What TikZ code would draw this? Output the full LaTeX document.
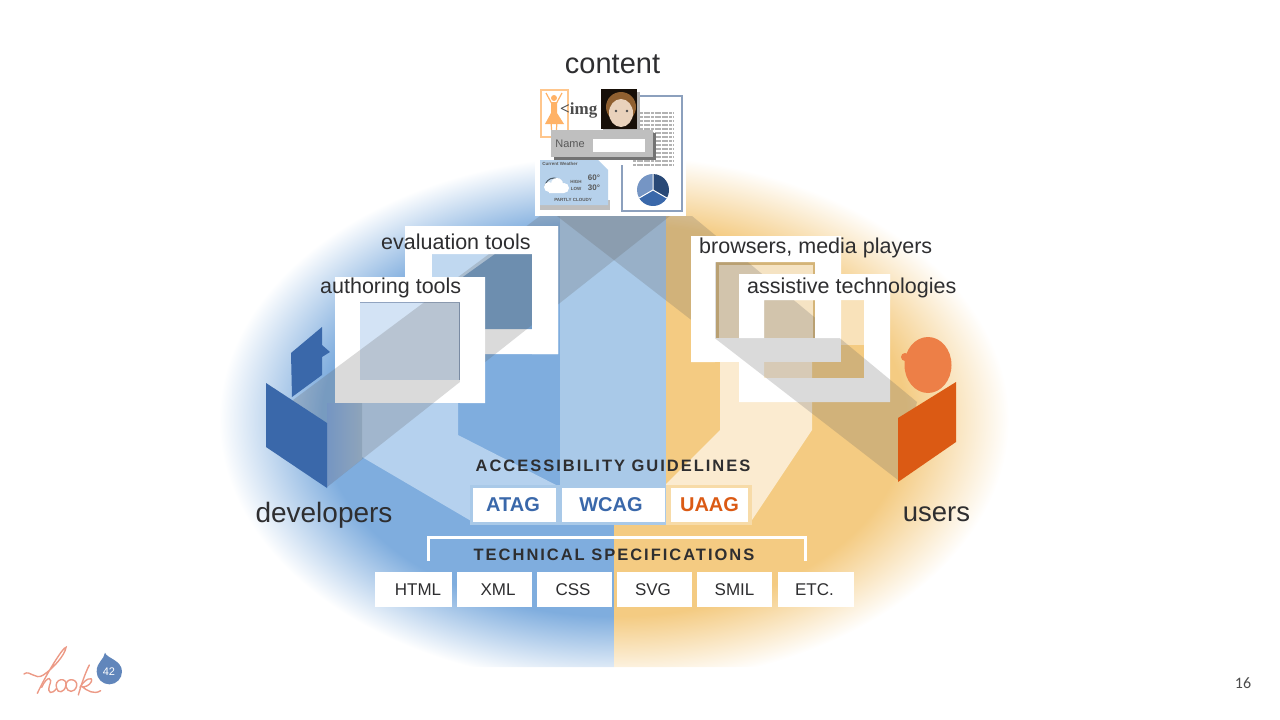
\documentclass[tikz,border=0pt]{standalone}
\usepackage{fontspec}
\setmainfont{Liberation Sans}
\newfontfamily\imgfont{Liberation Serif}
\newfontfamily\slidefont{Carlito}
\newfontfamily\trackfont[LetterSpace=12]{Liberation Sans}
\definecolor{devblue}{HTML}{3A68AA}
\definecolor{glowblue}{HTML}{7FADDE}
\definecolor{bandblue}{HTML}{A9C9E8}
\definecolor{paleblue}{HTML}{B5D1EE}
\definecolor{gloworange}{HTML}{F4CB82}
\definecolor{paleorange}{HTML}{FBEBD0}
\definecolor{useorange}{HTML}{DB5A14}
\definecolor{headorange}{HTML}{ED7F47}
\definecolor{beamgray}{HTML}{606060}
\definecolor{tan}{HTML}{D4B478}
\definecolor{inkdark}{HTML}{2E2E30}
\definecolor{signcolor}{HTML}{EC9A86}
\pgfdeclareradialshading{blueglow}{\pgfpoint{0bp}{0bp}}{color(0bp)=(glowblue); color(18.5bp)=(glowblue); color(25bp)=(white); color(50bp)=(white)}
\pgfdeclareradialshading{orangeglow}{\pgfpoint{0bp}{0bp}}{color(0bp)=(gloworange); color(18.5bp)=(gloworange); color(25bp)=(white); color(50bp)=(white)}
\tikzset{
      beam/.style={fill=beamgray, fill opacity=0.23},
      frame/.style={fill=white, even odd rule},
      toolname/.style={anchor=west, inner sep=0pt, font=\fontsize{21.5}{21.5}\selectfont, text=inkdark},
      actor/.style={inner sep=0pt, font=\fontsize{28}{28}\selectfont, text=inkdark},
      heading/.style={inner sep=0pt, font=\trackfont\fontsize{16.5}{16.5}\selectfont\bfseries, text=inkdark},
      guide/.style={fill=white, inner sep=0pt, minimum height=34pt, font=\fontsize{20}{20}\selectfont\bfseries},
      spec/.style={fill=white, inner sep=0pt, minimum width=75pt, minimum height=35pt, font=\fontsize{17}{17}\selectfont, text=inkdark},
      tiny/.style={inner sep=0pt, font=\fontsize{4.5}{5}\selectfont\bfseries, text=black!65},
      signature/.style={draw=signcolor, line width=1.4pt, line cap=round},
}
\begin{document}
\begin{tikzpicture}[x=1pt,y=-1pt]
        \useasboundingbox (0,0) rectangle (1280,720);

        % Draw the glow
        \begin{scope}
            \clip (0,0) -- (666,0) -- (666,505) -- (614,505) -- (614,667) -- (0,667) -- cycle;
            \shade[shading=blueglow] (614,420) ellipse [x radius=395pt, y radius=265pt];
        \end{scope}
        \begin{scope}
            \clip (1280,0) -- (666,0) -- (666,505) -- (614,505) -- (614,667) -- (1280,667) -- cycle;
            \shade[shading=orangeglow] (614,420) ellipse [x radius=395pt, y radius=265pt];
        \end{scope}

        % Draw the pale shapes under the boxes
        \fill[bandblue] (560,205) -- (666,205) -- (666,490) -- (560,490) -- cycle;
        \fill[paleblue] (362,400) -- (458,400) -- (458,435) -- (560,487) -- (560,490) -- (478,525) -- (362,457) -- cycle;
        \fill[paleorange] (720,360) -- (812,360) -- (812,430) -- (752,520) -- (666,505) -- (666,484) -- (720,430) -- cycle;

        % Draw the tool boxes
        \fill[frame] (405,226) rectangle (558,354) (432,254) rectangle (532,329);
        \fill[paleblue!85!white] (432,254) rectangle (532,329);
        \fill[glowblue!90!black] (532,254) -- (532,329) -- (432,329) -- (432,299) -- (495,254) -- cycle;
        \fill[white] (335,277) rectangle (485,403);
        \fill[paleblue!60!white] (360,302) rectangle (460,380);
        \draw[black!20!devblue!60!white, line width=1.5pt] (360,302) -- (460,302) -- (460,380);

        \fill[white] (691,236) rectangle (841,362);
        \draw[tan, line width=3pt, fill=paleorange!85!tan] (717,338) -- (717,263) -- (814,263) -- (814,338);
        \fill[frame] (739,274) rectangle (890,402) (764,300) rectangle (864,378);
        \fill[gloworange!55!white] (841,300) rectangle (864,345);

        % Draw the beams
        \fill[beam] (540,216) -- (670,216) -- (327,487) -- (293,400) -- cycle;
        \fill[beam] (557,216) -- (692,216) -- (917,402) -- (898,480) -- cycle;
        \shade[left color=devblue!70!white, right color=black!25!paleblue!90!white, fill opacity=0.85] (327,403) -- (362,403) -- (362,459) -- (327,487) -- cycle;

        % Draw the strips of the boxes that stay white
        \fill[white] (405,226) rectangle (558,254) (532,254) rectangle (558,354);
        \fill[white] (335,277) rectangle (485,302) (460,302) rectangle (485,403);
        \fill[white] (691,236) rectangle (841,262) (691,262) rectangle (715,362) (815,262) rectangle (841,338);
        \fill[white] (739,274) rectangle (890,300) (739,300) rectangle (764,338);

        % Draw the developers and the users
        \fill[devblue] (266,383) -- (327,423) -- (327,488) -- (266,447) -- cycle;
        \fill[devblue] (322,327) -- (322,345) -- (330,352) -- (322,357) -- (322,375) -- (292,397) -- (291,353) -- cycle;
        \fill[headorange] (928,365) ellipse [x radius=23.5pt, y radius=28pt];
        \fill[headorange] (905,357) circle [radius=4pt];
        \fill[useorange] (956,382) -- (956,442) -- (898,482) -- (898,418) -- cycle;

        % Draw the content sheet
        \fill[white] (535,85) rectangle (686,216);
        \draw[black!20!devblue!55!white, line width=2pt] (622,165) -- (622,211) -- (682,211) -- (682,96) -- (636,96);
        \foreach \liney in {113,117,...,165}
            \draw[black!30, line width=2pt, dash pattern=on 3pt off 0.6pt] (633,\liney) -- (674,\liney);
        \draw[orange!45!white, line width=2pt] (541,90) rectangle (568,137);
        \fill[orange!60!white] (554,98) circle [radius=3pt];
        \fill[orange!60!white] (551,102) -- (557,102) -- (557,113) -- (564,124) -- (545,124) -- (551,113) -- cycle;
        \draw[orange!60!white, line width=1.2pt] (552,104) -- (546,93) (556,104) -- (562,93) (551,122) -- (552,135) (557,122) -- (556,135);
        \node[inner sep=0pt, anchor=west, text=black!70] (imgtag) at (560,110) {\imgfont\fontsize{17}{17}\selectfont\bfseries <img};
        \fill[black!30] (603,92) rectangle (640,132);
        \fill[black!88!brown] (601,89) rectangle (637,129);
        \fill[brown!75!black] (621,107) ellipse [x radius=15pt, y radius=15pt];
        \fill[brown!35!white] (621,113) ellipse [x radius=12pt, y radius=14pt];
        \fill[black!70] (616,111) circle [radius=1.3pt] (627,111) circle [radius=1.3pt];
        \fill[black!55] (554,133) rectangle (656,160);
        \fill[black!25] (551,130) rectangle (653,157);
        \fill[white] (593,139) rectangle (645,152);
        \node[inner sep=0pt, text=black!65] (namefield) at (570,144) {\fontsize{11}{11}\selectfont Name};
        \fill[black!25] (540,200) rectangle (610,210);
        \fill[bandblue!85!white] (540,160) -- (598,160) -- (608,170) -- (608,205) -- (540,205) -- cycle;
        \node[tiny] (weathertitle) at (560,164) {Current Weather};
        \draw[black!55!bandblue, line width=1pt, fill=bandblue!60!white] (545,187) arc[start angle=180, end angle=0, radius=9pt];
        \fill[white] (549,187) circle [radius=5pt] (557,184) circle [radius=6pt] (564,188) circle [radius=5pt] (549,188) rectangle (564,193);
        \node[tiny] (lowhigh) at (576,182) {HIGH};
        \node[tiny] (lowlow) at (576,189) {LOW};
        \node[inner sep=0pt, text=black!65] (hightemp) at (594,178) {\fontsize{8}{8}\selectfont\bfseries 60°};
        \node[inner sep=0pt, text=black!65] (lowtemp) at (594,188) {\fontsize{8}{8}\selectfont\bfseries 30°};
        \node[tiny] (cloudy) at (573,200) {PARTLY CLOUDY};
        \fill[devblue!70!white] (653,190) -- ++(90:16pt) arc[start angle=90, end angle=210, radius=16pt] -- cycle;
        \fill[devblue] (653,190) -- ++(210:16pt) arc[start angle=210, end angle=330, radius=16pt] -- cycle;
        \fill[devblue!70!black] (653,190) -- ++(-30:16pt) arc[start angle=-30, end angle=90, radius=16pt] -- cycle;
        \draw[white, line width=1pt] (653,190) -- ++(90:16pt) (653,190) -- ++(210:16pt) (653,190) -- ++(-30:16pt);

        % Draw the guidelines and the specifications
        \fill[bandblue] (470,485) rectangle (666,525);
        \fill[gloworange!70!white] (666,485) rectangle (752,525);
        \node[heading] (guidelines) at (613,466) {ACCESSIBILITY GUIDELINES};
        \node[guide, minimum width=83pt, text=devblue] (atag) at (514.5,505) {\hspace*{-3pt}ATAG};
        \node[guide, minimum width=103pt, text=devblue] (wcag) at (613.5,505) {\hspace*{-5pt}WCAG};
        \node[guide, minimum width=77pt, text=useorange] (uaag) at (709.5,505) {UAAG};

        \draw[white, line width=3pt] (428,561) -- (428,537) -- (805,537) -- (805,561);
        \node[heading] (specs) at (614,555) {TECHNICAL SPECIFICATIONS};
        \node[spec, minimum width=77pt] (html) at (413.5,589.5) {\hspace*{9pt}HTML};
        \node[spec] (xml) at (494.5,589.5) {\hspace*{7pt}XML};
        \node[spec] (css) at (574.5,589.5) {\hspace*{-3pt}CSS};
        \node[spec] (svg) at (654.5,589.5) {\hspace*{-3pt}SVG};
        \node[spec] (smil) at (734.5,589.5) {SMIL};
        \node[spec, minimum width=76pt] (etc) at (816,589.5) {\hspace*{-3pt}ETC.};

        % Draw the labels
        \node[actor, font=\fontsize{29}{29}\selectfont] (content) at (612.5,64) {content};
        \node[actor] (developers) at (324,515) {developers};
        \node[actor, font=\fontsize{27.5}{27.5}\selectfont] (users) at (936.5,514) {users};
        \node[toolname] (evaluation) at (381,242) {evaluation tools};
        \node[toolname] (authoring) at (320,288) {authoring tools};
        \node[toolname] (browsers) at (699,248) {browsers, media players};
        \node[toolname] (assistive) at (747,288) {assistive technologies};

        % Draw the logo
        \begin{scope}[shift={(10,630)}, scale=1/3]
            \draw[signature] (42,132) .. controls (60,118) and (75,152) .. (100,135) .. controls (130,115) and (165,75) .. (168,52) .. controls (160,50) and (110,130) .. (82,190);
            \draw[signature] (95,172) .. controls (112,135) and (130,140) .. (118,168) .. controls (112,190) and (125,195) .. (140,175);
            \draw[signature] (140,175) .. controls (130,145) and (172,140) .. (168,165) .. controls (164,190) and (142,190) .. (140,175);
            \draw[signature] (168,170) .. controls (165,140) and (205,145) .. (200,168) .. controls (194,190) and (172,188) .. (168,170);
            \draw[signature] (238,105) .. controls (225,130) and (212,170) .. (205,195);
            \draw[signature] (210,172) .. controls (225,145) and (250,138) .. (244,155) .. controls (238,168) and (222,172) .. (216,170) .. controls (232,182) and (252,195) .. (272,182);
            \fill[devblue!80!white] (285,68) .. controls (290,85) and (336,90) .. (336,125) arc[start angle=0, end angle=-180, radius=38pt] .. controls (260,95) and (282,90) .. (285,68) -- cycle;
        \end{scope}
        \node[inner sep=0pt, text=white] (logonum) at (109,672) {\fontsize{11}{11}\selectfont 42};

        % Draw the slide number
        \node[inner sep=0pt, text=black!70] (pagenum) at (1243,683) {\slidefont\fontsize{16}{16}\selectfont 16};

    \end{tikzpicture}
\end{document}
